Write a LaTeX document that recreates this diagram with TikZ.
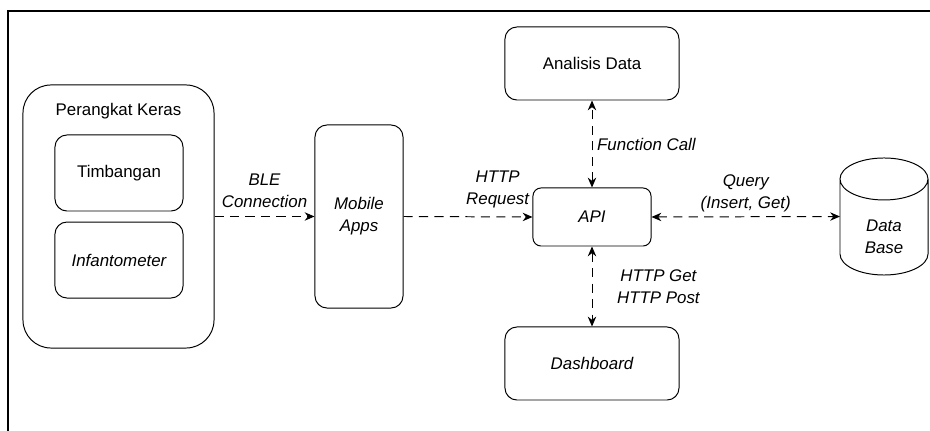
\documentclass[tikz,border=0pt]{standalone}
\usepackage{fontspec}
\setmainfont{Liberation Sans}
\usetikzlibrary{arrows.meta}

\begin{document}
\begin{tikzpicture}[x=0.025cm, y=-0.025cm, node distance=2.175cm,
  font=\fontsize{12}{15.5}\selectfont,
  >={Stealth[length=7pt,width=6pt]},
  box/.style={draw, rectangle, rounded corners=0.3cm, line width=0.7pt, align=center},
  link/.style={dash pattern=on 6.5pt off 4.5pt, line width=0.7pt},
  tag/.style={font=\fontsize{12}{15.5}\selectfont\itshape, align=center}]
\useasboundingbox (0,0) rectangle (930,431);
\draw[line width=1.4pt] (8,431) -- (8,11) -- (930,11);

\node (hw) [box, rounded corners=0.7cm, minimum width=4.775cm, minimum height=6.575cm,
  label={[anchor=center, yshift=-0.675cm]north:Perangkat Keras}] at (118.5,216.5) {};
\node (timb) [box, minimum width=3.2cm, minimum height=1.9cm] at (119,173) {Timbangan};
\node (infa) [box, minimum width=3.2cm, minimum height=1.9cm, below of=timb, font=\fontsize{12}{15.5}\selectfont\itshape] {Infantometer};
\node (mob) [box, minimum width=2.2cm, minimum height=4.575cm, font=\fontsize{12}{15.5}\selectfont\itshape] at (359,216.5) {Mobile\\Apps};
\node (api) [box, rounded corners=0.2cm, minimum width=2.95cm, minimum height=1.45cm, font=\fontsize{12}{15.5}\selectfont\itshape] at (592,217) {API};
\node (ana) [box, minimum width=4.35cm, minimum height=1.825cm] at (592,63.5) {Analisis Data};
\node (dash) [box, minimum width=4.35cm, minimum height=1.825cm, font=\fontsize{12}{15.5}\selectfont\itshape] at (592,363.5) {Dashboard};
\node (db) [rectangle, outer sep=0pt, minimum width=2.2cm, minimum height=2.925cm, text height=1.83cm, text depth=0pt, align=center, font=\fontsize{12}{15.5}\selectfont\itshape] at (884,216.5) {Data\\Base};
% cylinder outline of the data base
\draw[line width=0.7pt] ([yshift=-0.525cm]db.north west) -- ([yshift=0.525cm]db.south west)
  arc[start angle=180, end angle=360, x radius=1.1cm, y radius=0.525cm]
  -- ([yshift=-0.525cm]db.north east)
  arc[start angle=0, end angle=360, x radius=1.1cm, y radius=0.525cm];

\draw[link,->] (hw.east |- mob) -- (mob.west) node[tag, midway, above=0.1cm] {BLE\\Connection};
\draw[link,->] (mob.east) -- (api.west) node[tag, pos=0.73, above=0.1cm] {HTTP\\Request};
\draw[link,<->] (api.north) -- (ana.south) node[tag, midway, right] {Function Call};
\draw[link,<->] (api.east) -- (db.west) node[tag, midway, above=0cm] {Query\\(Insert, Get)};
\draw[link,<->] (api.south) -- (dash.north) node[tag, midway, right=0.5cm] {HTTP Get\\HTTP Post};
\end{tikzpicture}
\end{document}
